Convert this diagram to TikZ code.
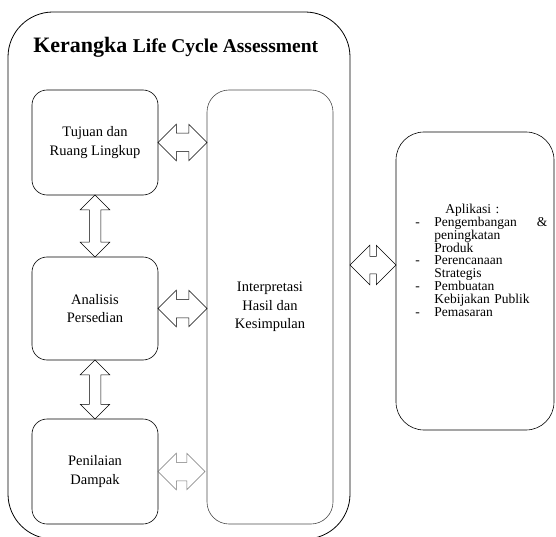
\documentclass[tikz,border=0pt]{standalone}
\usepackage{fontspec}
\setmainfont{Liberation Serif}
\usepackage{tikz}
\usetikzlibrary{calc,shapes.arrows,positioning}

\newcommand{\aplitem}[1]{\makebox[19pt][l]{-}#1}
\newcommand{\aplcont}[1]{\hspace*{19pt}#1}

\begin{document}
\begin{tikzpicture}[x=1pt,y=-1pt,line width=0.6pt,
  phase/.style={draw,rounded corners=15pt,minimum width=126pt,minimum height=105pt,
    align=center,inner sep=0pt,font=\fontsize{14.5}{18.5}\selectfont},
  harrow/.style={draw,double arrow,double arrow head extend=9pt,inner xsep=0pt,
    inner ysep=9pt,minimum height=49pt,line width=0.5pt},
  varrow/.style={draw,double arrow,double arrow head extend=9pt,inner xsep=0pt,
    inner ysep=5.5pt,rotate=90,line width=0.5pt}]
  \useasboundingbox (0,0) rectangle (556,537);
  \clip (0,0) rectangle (556,537);

  % --- LCA frame ---
  \node[draw,rounded corners=45pt,minimum width=342pt,minimum height=527pt,line width=0.8pt] (frame) at (179,275.5) {};
  \node[anchor=base west,inner sep=0pt,font=\bfseries\fontsize{22}{24}\selectfont] (title) at (33,53)
    {Kerangka {\fontsize{19.5}{22}\selectfont Life Cycle Assessment}};

  % --- Phases ---
  \node[phase] (tujuan) at (95,142.5) {Tujuan dan\\Ruang Lingkup};
  \node[phase,minimum height=103pt] (analisis) at (95,308.5) {Analisis\\Persedian};
  \node[phase] (penilaian) at (95,471.5) {Penilaian\\Dampak};
  \node[phase,draw=black!70,rounded corners=22pt,minimum height=434pt] (interp) at (270,307)
    {Interpretasi\\Hasil dan\\Kesimpulan};

  % --- Applications ---
  \node[draw,rounded corners=28pt,minimum width=158pt,minimum height=298pt] (apl) at (475,281) {};
  \node[anchor=north west,inner sep=0pt,text width=132pt,align=left,
    font=\fontsize{13.5}{12.8}\selectfont] (apltext) at (415,204)
    {\hspace*{30pt}Aplikasi :\\
     \aplitem{Pengembangan}\hfill\&\\
     \aplcont{peningkatan}\\
     \aplcont{Produk}\\
     \aplitem{Perencanaan}\\
     \aplcont{Strategis}\\
     \aplitem{Pembuatan}\\
     \aplcont{Kebijakan Publik}\\
     \aplitem{Pemasaran}};

  % --- Double arrows ---
  \node[harrow] (a1) at ($(tujuan.east)!0.5!(interp.west |- tujuan.east)$) {};
  \node[harrow] (a2) at ($(analisis.east)!0.5!(interp.west |- analisis.east)$) {};
  \node[harrow,draw=black!55,minimum height=47pt] (a3) at ($(penilaian.east)!0.5!(interp.west |- penilaian.east)+(-1,0)$) {};
  \node[varrow,minimum height=62pt] (v1) at ($(tujuan.south)!0.5!(analisis.north)$) {};
  \node[varrow,minimum height=59pt] (v2) at ($(analisis.south)!0.5!(penilaian.north)$) {};
  \coordinate (c4) at (frame.east |- 0,265);
  \node[harrow,minimum height=46pt,inner ysep=8.5pt,double arrow head extend=11pt] (a4) at ($(c4)!0.5!(apl.west |- c4)$) {};
\end{tikzpicture}
\end{document}
